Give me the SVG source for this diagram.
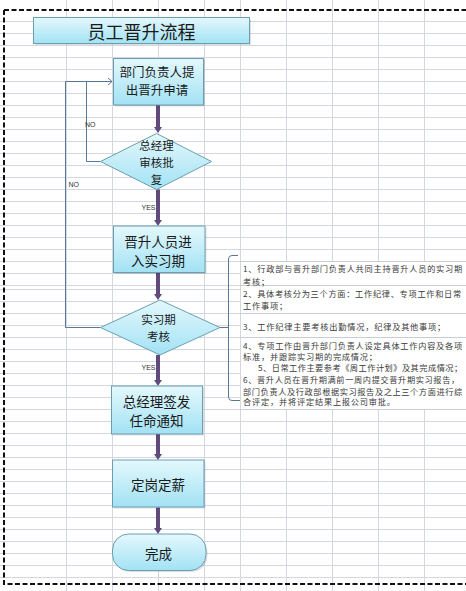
<svg xmlns="http://www.w3.org/2000/svg" width="466" height="591" viewBox="0 0 466 591">
<defs>
<linearGradient id="gBox" x1="0" y1="0" x2="0" y2="1">
<stop offset="0" stop-color="#e4f8fd"/>
<stop offset="1" stop-color="#a2e2f4"/>
</linearGradient>
<marker id="ah" markerWidth="10" markerHeight="10" refX="0" refY="4" orient="auto" markerUnits="userSpaceOnUse">
<path d="M0,0 L6,4 L0,8 z" fill="#604a7b"/>
</marker>
<marker id="ao" markerWidth="8" markerHeight="8" refX="4" refY="3.5" orient="auto" markerUnits="userSpaceOnUse">
<path d="M0,0 L4,3.5 L0,7" fill="none" stroke="#5a7896" stroke-width="1"/>
</marker>
</defs>
<style>
.grid line{stroke:#d3d8e0;stroke-width:1}
.border{fill:none;stroke:#111;stroke-width:2;stroke-dasharray:5 2.5}
.shape{fill:url(#gBox);stroke:#6b9fb0;stroke-width:1}
.shadow{fill:#000;opacity:0.12}
.t{font-family:"Noto Sans CJK SC","Liberation Sans",sans-serif;fill:#1a1a1a;text-anchor:middle;dominant-baseline:central}
.big{font-size:13.5px}
.mid{font-size:12.5px}
.dia{font-size:11.5px}
.note{font-family:"Noto Sans CJK SC","Liberation Sans",sans-serif;font-size:8.2px;letter-spacing:0.8px;fill:#3a3a3a}
.lbl{font-family:"Liberation Sans",sans-serif;font-size:7px;fill:#333}
.flow{stroke:#604a7b;stroke-width:4;fill:none;marker-end:url(#ah)}
.thin{stroke:#5a7896;stroke-width:1;fill:none}
.sep{stroke:#c8ccd4;stroke-width:1}
</style>
<rect width="466" height="591" fill="#ffffff"/>
<g class="grid" id="grid">
<line x1="66.5" y1="0" x2="66.5" y2="591"/>
<line x1="112.5" y1="0" x2="112.5" y2="591"/>
<line x1="158.5" y1="0" x2="158.5" y2="591"/>
<line x1="204.5" y1="0" x2="204.5" y2="591"/>
<line x1="240.5" y1="0" x2="240.5" y2="591"/>
<line x1="286.5" y1="0" x2="286.5" y2="591"/>
<line x1="332.5" y1="0" x2="332.5" y2="591"/>
<line x1="378.5" y1="0" x2="378.5" y2="591"/>
<line x1="424.5" y1="0" x2="424.5" y2="591"/>
<line x1="0" y1="21.5" x2="466" y2="21.5"/>
<line x1="0" y1="33.5" x2="466" y2="33.5"/>
<line x1="0" y1="45.5" x2="466" y2="45.5"/>
<line x1="0" y1="57.5" x2="466" y2="57.5"/>
<line x1="0" y1="69.5" x2="466" y2="69.5"/>
<line x1="0" y1="81.5" x2="466" y2="81.5"/>
<line x1="0" y1="93.5" x2="466" y2="93.5"/>
<line x1="0" y1="105.5" x2="466" y2="105.5"/>
<line x1="0" y1="117.5" x2="466" y2="117.5"/>
<line x1="0" y1="129.5" x2="466" y2="129.5"/>
<line x1="0" y1="141.5" x2="466" y2="141.5"/>
<line x1="0" y1="153.5" x2="466" y2="153.5"/>
<line x1="0" y1="165.5" x2="466" y2="165.5"/>
<line x1="0" y1="177.5" x2="466" y2="177.5"/>
<line x1="0" y1="189.5" x2="466" y2="189.5"/>
<line x1="0" y1="201.5" x2="466" y2="201.5"/>
<line x1="0" y1="213.5" x2="466" y2="213.5"/>
<line x1="0" y1="225.5" x2="466" y2="225.5"/>
<line x1="0" y1="237.5" x2="466" y2="237.5"/>
<line x1="0" y1="249.5" x2="466" y2="249.5"/>
<line x1="0" y1="261.5" x2="466" y2="261.5"/>
<line x1="0" y1="273.5" x2="466" y2="273.5"/>
<line x1="0" y1="285.5" x2="466" y2="285.5"/>
<line x1="0" y1="289.5" x2="466" y2="289.5"/>
<line x1="0" y1="301.5" x2="466" y2="301.5"/>
<line x1="0" y1="313.5" x2="466" y2="313.5"/>
<line x1="0" y1="325.5" x2="466" y2="325.5"/>
<line x1="0" y1="337.5" x2="466" y2="337.5"/>
<line x1="0" y1="349.5" x2="466" y2="349.5"/>
<line x1="0" y1="361.5" x2="466" y2="361.5"/>
<line x1="0" y1="373.5" x2="466" y2="373.5"/>
<line x1="0" y1="385.5" x2="466" y2="385.5"/>
<line x1="0" y1="397.5" x2="466" y2="397.5"/>
<line x1="0" y1="409.5" x2="466" y2="409.5"/>
<line x1="0" y1="421.5" x2="466" y2="421.5"/>
<line x1="0" y1="433.5" x2="466" y2="433.5"/>
<line x1="0" y1="445.5" x2="466" y2="445.5"/>
<line x1="0" y1="457.5" x2="466" y2="457.5"/>
<line x1="0" y1="469.5" x2="466" y2="469.5"/>
<line x1="0" y1="481.5" x2="466" y2="481.5"/>
<line x1="0" y1="493.5" x2="466" y2="493.5"/>
<line x1="0" y1="505.5" x2="466" y2="505.5"/>
<line x1="0" y1="517.5" x2="466" y2="517.5"/>
<line x1="0" y1="529.5" x2="466" y2="529.5"/>
<line x1="0" y1="541.5" x2="466" y2="541.5"/>
<line x1="0" y1="553.5" x2="466" y2="553.5"/>
<line x1="0" y1="565.5" x2="466" y2="565.5"/>
<line x1="0" y1="577.5" x2="466" y2="577.5"/>
</g>
<g id="page-border">
<path class="border" d="M4,10 H466 M4,10 V584 H466"/>
</g>
<g id="notes">
<rect x="241" y="262" width="225" height="147" fill="#ffffff"/>
<line class="sep" x1="240" y1="261.5" x2="466" y2="261.5"/>
<line class="sep" x1="240" y1="285.5" x2="466" y2="285.5"/>
<line class="sep" x1="240" y1="313.5" x2="466" y2="313.5"/>
<line class="sep" x1="240" y1="337.5" x2="466" y2="337.5"/>
<line class="sep" x1="240" y1="409.5" x2="466" y2="409.5"/>
<text class="note" x="243" y="272" textLength="220" lengthAdjust="spacing">1、行政部与晋升部门负责人共同主持晋升人员的实习期</text>
<text class="note" x="243" y="284.5">考核；</text>
<text class="note" x="243" y="297" textLength="219" lengthAdjust="spacing">2、具体考核分为三个方面：工作纪律、专项工作和日常</text>
<text class="note" x="243" y="309">工作事项；</text>
<text class="note" x="243" y="329.5">3、工作纪律主要考核出勤情况，纪律及其他事项；</text>
<text class="note" x="243" y="348.5" textLength="220" lengthAdjust="spacing">4、专项工作由晋升部门负责人设定具体工作内容及各项</text>
<text class="note" x="243" y="360">标准，并跟踪实习期的完成情况；</text>
<text class="note" x="258" y="371" textLength="205" lengthAdjust="spacing">5、日常工作主要参考《周工作计划》及其完成情况；</text>
<text class="note" x="243" y="383" textLength="217" lengthAdjust="spacing">6、晋升人员在晋升期满前一周内提交晋升期实习报告，</text>
<text class="note" x="243" y="394.5" textLength="220" lengthAdjust="spacing">部门负责人及行政部根据实习报告及之上三个方面进行综</text>
<text class="note" x="243" y="405">合评定，并将评定结果上报公司审批。</text>
</g>
<g id="title">
<rect class="shadow" x="35" y="19" width="216" height="26"/>
<rect class="shape" x="33.5" y="17.5" width="216" height="26"/>
<text class="t" x="141.5" y="30.5" style="font-size:18px">员工晋升流程</text>
</g>
<g id="connectors">
<line class="flow" x1="158" y1="105" x2="158" y2="127"/>
<line class="flow" x1="158" y1="189.5" x2="158" y2="220"/>
<line class="flow" x1="158" y1="273" x2="158" y2="294"/>
<line class="flow" x1="158" y1="355" x2="158" y2="380"/>
<line class="flow" x1="158" y1="434" x2="158" y2="454"/>
<line class="flow" x1="158" y1="507.5" x2="158" y2="528"/>
<path class="thin" d="M100.5,161.5 H86.5 V81.5 H112" marker-end="url(#ao)"/>
<path class="thin" d="M100.5,327.5 H65.5 V81.5 H86.5"/>
<path class="thin" d="M220,327.5 H228.5"/>
<path class="thin" d="M238,255.5 H232 Q228.5,255.5 228.5,259 V397 Q228.5,400.5 232,400.5 H240"/>
<text class="lbl" x="85" y="126.5">NO</text>
<text class="lbl" x="68.5" y="186.5">NO</text>
<text class="lbl" x="141.5" y="210">YES</text>
<text class="lbl" x="141.5" y="370">YES</text>
</g>
<g id="n-apply">
<rect class="shadow" x="115" y="60" width="90" height="46.5"/>
<rect class="shape" x="113.5" y="58.5" width="90" height="46.5"/>
<text class="t mid" x="157" y="71.5">部门负责人提</text>
<text class="t mid" x="157" y="89.5">出晋升申请</text>
</g>
<g id="n-gm-review">
<polygon class="shape" points="156.5,133.5 211.5,161.5 156.5,189.5 100.5,161.5"/>
<text class="t dia" x="156.5" y="144.5">总经理</text>
<text class="t dia" x="156.5" y="161.5">审核批</text>
<text class="t dia" x="156.5" y="178.5">复</text>
</g>
<g id="n-probation">
<rect class="shadow" x="115" y="227.5" width="91.5" height="46.5"/>
<rect class="shape" x="113.5" y="226" width="91.5" height="46.5"/>
<text class="t big" x="158" y="240.5">晋升人员进</text>
<text class="t big" x="158" y="260">入实习期</text>
</g>
<g id="n-assess">
<polygon class="shape" points="160,300 220,327.5 160,355 100.5,327.5"/>
<text class="t dia" x="158.5" y="319">实习期</text>
<text class="t dia" x="158.5" y="336">考核</text>
</g>
<g id="n-appoint">
<rect class="shadow" x="113" y="387.5" width="91" height="48"/>
<rect class="shape" x="111.5" y="386" width="91" height="48"/>
<text class="t big" x="156.5" y="400.5">总经理签发</text>
<text class="t big" x="156.5" y="420">任命通知</text>
</g>
<g id="n-salary">
<rect class="shadow" x="114" y="461.5" width="91.5" height="47"/>
<rect class="shape" x="112.5" y="460" width="91.5" height="47"/>
<text class="t big" x="158" y="483.5">定岗定薪</text>
</g>
<g id="n-done">
<rect class="shadow" x="114" y="535.5" width="93.5" height="36.5" rx="16"/>
<rect class="shape" x="112.5" y="534" width="93.5" height="36.5" rx="16"/>
<text class="t big" x="158.5" y="552.5">完成</text>
</g>
</svg>
